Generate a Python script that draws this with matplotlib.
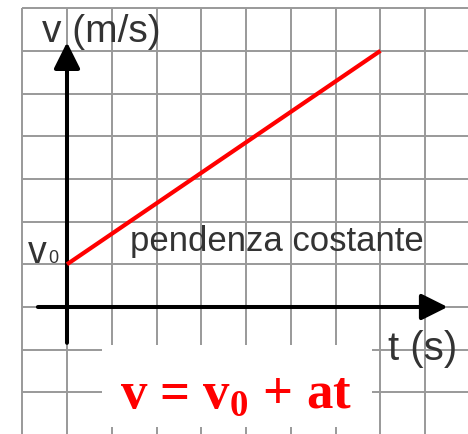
import matplotlib
matplotlib.use("Agg")
import matplotlib.pyplot as plt
from matplotlib.patches import Rectangle
import numpy as np

# ---- data ----
t_vals = [0, 7]          # time (grid units)
v_vals = [1, 6]          # velocity (grid units), v0 = 1
x_grid = list(range(-1, 10))   # vertical grid lines
y_grid = list(range(-3, 8))    # horizontal grid lines
ylabel_text = "v (m/s)"
xlabel_text = "t (s)"
v0_text = "v"
v0_sub = "0"
slope_text = "pendenza costante"
formula_text = r"v = v$_{\mathbf{0}}$ + at"

plt.rcParams['mathtext.fontset'] = 'custom'
plt.rcParams['mathtext.bf'] = 'Liberation Serif:bold'
plt.rcParams['mathtext.rm'] = 'Liberation Serif'

W, H = 468, 434
fig = plt.figure(figsize=(W / 100, H / 100), dpi=100)
ax = fig.add_axes([0, 0, 1, 1])
px_x, px_y = 44.78, 42.7
ox, oy = 67, 307
ax.set_xlim(-ox / px_x, (W - ox) / px_x)
ax.set_ylim((oy - H) / px_y, oy / px_y)
ax.axis('off')

xl = ax.get_xlim()
yl = ax.get_ylim()
gcol = '#999999'
ax.vlines(x_grid, yl[0], max(y_grid), colors=gcol, lw=1.4, zorder=1)
ax.hlines([y for y in y_grid if y >= yl[0]], min(x_grid), xl[1], colors=gcol, lw=1.4, zorder=1)

# white box behind the formula
ax.add_patch(Rectangle((0.78, -2.81), 6.81 - 0.78, 2.81 - 0.89,
                       facecolor='white', edgecolor='none', zorder=2))

# axes arrows
arr = dict(arrowstyle='-|>,head_length=0.5,head_width=0.25', mutation_scale=32,
           lw=2.9, color='black', shrinkA=0, shrinkB=0)
ax.annotate('', xy=(8.5, 0), xytext=(-0.65, 0), arrowprops=arr, zorder=3)
ax.annotate('', xy=(0, 6.2), xytext=(0, -0.84), arrowprops=arr, zorder=3)

# red line
ax.plot(t_vals, v_vals, color='#ff0000', lw=3, solid_capstyle='butt', zorder=4)

tc = '#333333'
sans = 'Liberation Sans'
ax.text(-0.56, 6.21, ylabel_text, fontsize=28, family=sans, color=tc, va='baseline', ha='left', zorder=5)
ax.text(7.17, -1.24, xlabel_text, fontsize=29, family=sans, color=tc, va='baseline', ha='left', zorder=5)
ax.text(-0.87, 1.03, v0_text, fontsize=27, family=sans, color=tc, va='baseline', ha='left', zorder=5)
ax.text(-0.42, 1.02, v0_sub, fontsize=13, family=sans, color=tc, va='baseline', ha='left', zorder=5)
ax.text(1.41, 1.31, slope_text, fontsize=25, family=sans, color=tc, va='baseline', ha='left', zorder=5)
ax.text(1.18, -2.37, formula_text, fontsize=38, family='Liberation Serif', weight='bold',
        color='#ff0000', va='baseline', ha='left', zorder=5)

fig.savefig('out.png', dpi=100, facecolor='white')
